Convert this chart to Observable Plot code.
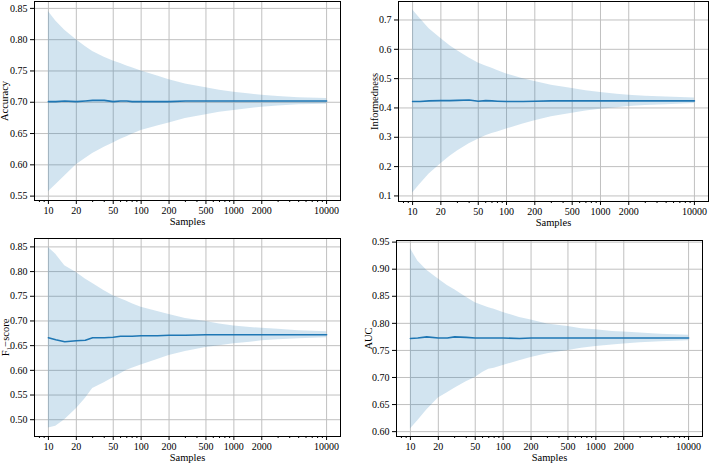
<!DOCTYPE html>
<html>
<head>
<meta charset="utf-8">
<script src="https://cdn.jsdelivr.net/npm/d3@7"></script>
<script src="https://cdn.jsdelivr.net/npm/@observablehq/plot@0.6"></script>
<style>
  html, body { margin: 0; padding: 0; background: #fff; }
  #wrap { position: relative; width: 709px; height: 463px; overflow: hidden; background: #fff; }
  #wrap > div { position: absolute; }
  svg { display: block; }
</style>
</head>
<body>
<div id="wrap">
  <div id="p1" style="left:0px;top:0px"></div>
  <div id="p2" style="left:355px;top:0px"></div>
  <div id="p3" style="left:0px;top:225px"></div>
  <div id="p4" style="left:355px;top:225px"></div>
</div>
<script>
// ---- data ----
const samples = [10, 12, 15, 20, 25, 30, 40, 50, 60, 70, 80, 100, 150, 200, 300, 500, 700, 1000, 1500, 2000, 3000, 5000, 10000];

const accMean = [0.701,0.701,0.702,0.701,0.702,0.703,0.703,0.701,0.702,0.702,0.701,0.701,0.701,0.701,0.702,0.702,0.702,0.702,0.702,0.702,0.702,0.702,0.702];
const accLo   = [0.557,0.568,0.582,0.600,0.610,0.618,0.628,0.635,0.641,0.645,0.649,0.655,0.662,0.667,0.674,0.680,0.684,0.687,0.690,0.692,0.694,0.696,0.697];
const accHi   = [0.845,0.830,0.815,0.800,0.789,0.781,0.772,0.766,0.762,0.758,0.755,0.750,0.742,0.736,0.729,0.723,0.719,0.716,0.713,0.711,0.709,0.707,0.706];

const infMean = [0.422,0.422,0.424,0.425,0.425,0.426,0.427,0.423,0.425,0.424,0.423,0.422,0.422,0.423,0.424,0.424,0.424,0.424,0.424,0.424,0.424,0.424,0.424];
const infLo   = [0.110,0.140,0.175,0.210,0.235,0.253,0.278,0.293,0.305,0.313,0.318,0.328,0.345,0.356,0.370,0.382,0.390,0.396,0.401,0.405,0.408,0.411,0.415];
const infHi   = [0.735,0.705,0.670,0.637,0.612,0.595,0.570,0.553,0.543,0.535,0.528,0.516,0.500,0.490,0.477,0.466,0.459,0.453,0.447,0.443,0.440,0.437,0.434];

const f1Mean  = [0.666,0.662,0.658,0.660,0.661,0.666,0.666,0.667,0.669,0.669,0.669,0.670,0.670,0.671,0.671,0.672,0.672,0.672,0.672,0.672,0.672,0.672,0.672];
const f1Lo    = [0.483,0.487,0.500,0.522,0.543,0.563,0.575,0.585,0.593,0.600,0.604,0.611,0.622,0.630,0.638,0.646,0.650,0.654,0.657,0.660,0.662,0.664,0.666];
const f1Hi    = [0.849,0.835,0.812,0.798,0.785,0.776,0.761,0.751,0.745,0.740,0.735,0.728,0.719,0.713,0.705,0.699,0.694,0.690,0.687,0.685,0.683,0.680,0.678];

const aucMean = [0.772,0.773,0.775,0.773,0.773,0.775,0.774,0.773,0.773,0.773,0.773,0.773,0.772,0.773,0.773,0.773,0.773,0.773,0.773,0.773,0.773,0.773,0.773];
const aucLo   = [0.605,0.620,0.640,0.662,0.672,0.680,0.692,0.700,0.709,0.715,0.717,0.722,0.731,0.737,0.744,0.750,0.754,0.757,0.760,0.762,0.764,0.766,0.768];
const aucHi   = [0.938,0.915,0.898,0.882,0.870,0.862,0.848,0.838,0.833,0.829,0.826,0.820,0.811,0.806,0.799,0.794,0.790,0.788,0.785,0.784,0.782,0.780,0.778];

const xMajorTicks = [10, 20, 50, 100, 200, 500, 1000, 2000, 10000];
const xMinorTicks = [8, 9, 30, 40, 60, 70, 80, 90, 300, 400, 600, 700, 800, 900, 3000, 4000, 5000, 6000, 7000, 8000, 9000];
const accTicks = [0.55, 0.60, 0.65, 0.70, 0.75, 0.80, 0.85];
const infTicks = [0.1, 0.2, 0.3, 0.4, 0.5, 0.6, 0.7];
const f1Ticks  = [0.50, 0.55, 0.60, 0.65, 0.70, 0.75, 0.80, 0.85];
const aucTicks = [0.60, 0.65, 0.70, 0.75, 0.80, 0.85, 0.90, 0.95];
const xLabel = "Samples";

// ---- drawing ----
const FONT = "'Liberation Serif', 'DejaVu Serif', serif";
const BLUE = "#1f77b4";
const GRID = "#c0c0c0";

function rows(mean, lo, hi) {
  return samples.map((n, i) => ({n, mean: mean[i], lo: lo[i], hi: hi[i]}));
}

function panel(o) {
  const data = rows(o.mean, o.lo, o.hi);
  return Plot.plot({
    width: o.w, height: o.h,
    marginLeft: o.ml, marginRight: o.mr, marginTop: o.mt, marginBottom: o.mb,
    style: {fontFamily: FONT, fontSize: "10px", color: "#000", background: "transparent", overflow: "visible"},
    x: {type: "log", domain: [7.0795, 14125.4]},
    y: {domain: o.yDomain},
    marks: [
      Plot.ruleX(xMajorTicks, {stroke: GRID, strokeWidth: 1}),
      Plot.ruleY(o.yTicks, {stroke: GRID, strokeWidth: 1}),
      Plot.areaY(data, {x: "n", y1: "lo", y2: "hi", fill: BLUE, fillOpacity: 0.2}),
      Plot.lineY(data, {x: "n", y: "mean", stroke: BLUE, strokeWidth: 1.6}),
      Plot.frame({stroke: "#000", strokeWidth: 1}),
      Plot.axisX({ticks: xMinorTicks, tickSize: 2, tickFormat: () => "", label: null}),
      Plot.axisX({ticks: xMajorTicks, tickSize: 4, tickFormat: () => "", label: null}),
      Plot.text(xMajorTicks, {x: d => d, frameAnchor: "bottom", dy: 6, lineAnchor: "top", text: d => String(d), fontSize: 10}),
      Plot.axisY({ticks: o.yTicks, tickSize: 4, tickPadding: 3, tickFormat: o.fmt, label: null, fontSize: 10}),
      Plot.text([xLabel], {frameAnchor: "bottom", dy: 21, lineAnchor: "middle", fontSize: 10.5}),
      Plot.text([o.ylabel], {frameAnchor: "left", rotate: -90, dx: o.ldx, lineAnchor: "middle", textAnchor: "middle", fontSize: 10.5})
    ]
  });
}

const f2 = d3.format(".2f"), f1 = d3.format(".1f");

document.getElementById("p1").append(panel({
  mean: accMean, lo: accLo, hi: accHi, yDomain: [0.543, 0.861], yTicks: accTicks, fmt: f2, ylabel: "Accuracy",
  w: 355, h: 230, ml: 34, mr: 15, mt: 1, mb: 30, ldx: -29.5
}));
document.getElementById("p2").append(panel({
  mean: infMean, lo: infLo, hi: infHi, yDomain: [0.081, 0.763], yTicks: infTicks, fmt: f1, ylabel: "Informedness",
  w: 354, h: 230, ml: 43, mr: 1, mt: 1, mb: 29, ldx: -24
}));
document.getElementById("p3").append(panel({
  mean: f1Mean, lo: f1Lo, hi: f1Hi, yDomain: [0.466, 0.867], yTicks: f1Ticks, fmt: f2, ylabel: "F\u2081\u2212score",
  w: 355, h: 238, ml: 34, mr: 15, mt: 13, mb: 27, ldx: -29
}));
document.getElementById("p4").append(panel({
  mean: aucMean, lo: aucLo, hi: aucHi, yDomain: [0.591, 0.953], yTicks: aucTicks, fmt: f2, ylabel: "AUC",
  w: 354, h: 238, ml: 41, mr: 7, mt: 15, mb: 27, ldx: -28.3
}));
</script>
</body>
</html>
